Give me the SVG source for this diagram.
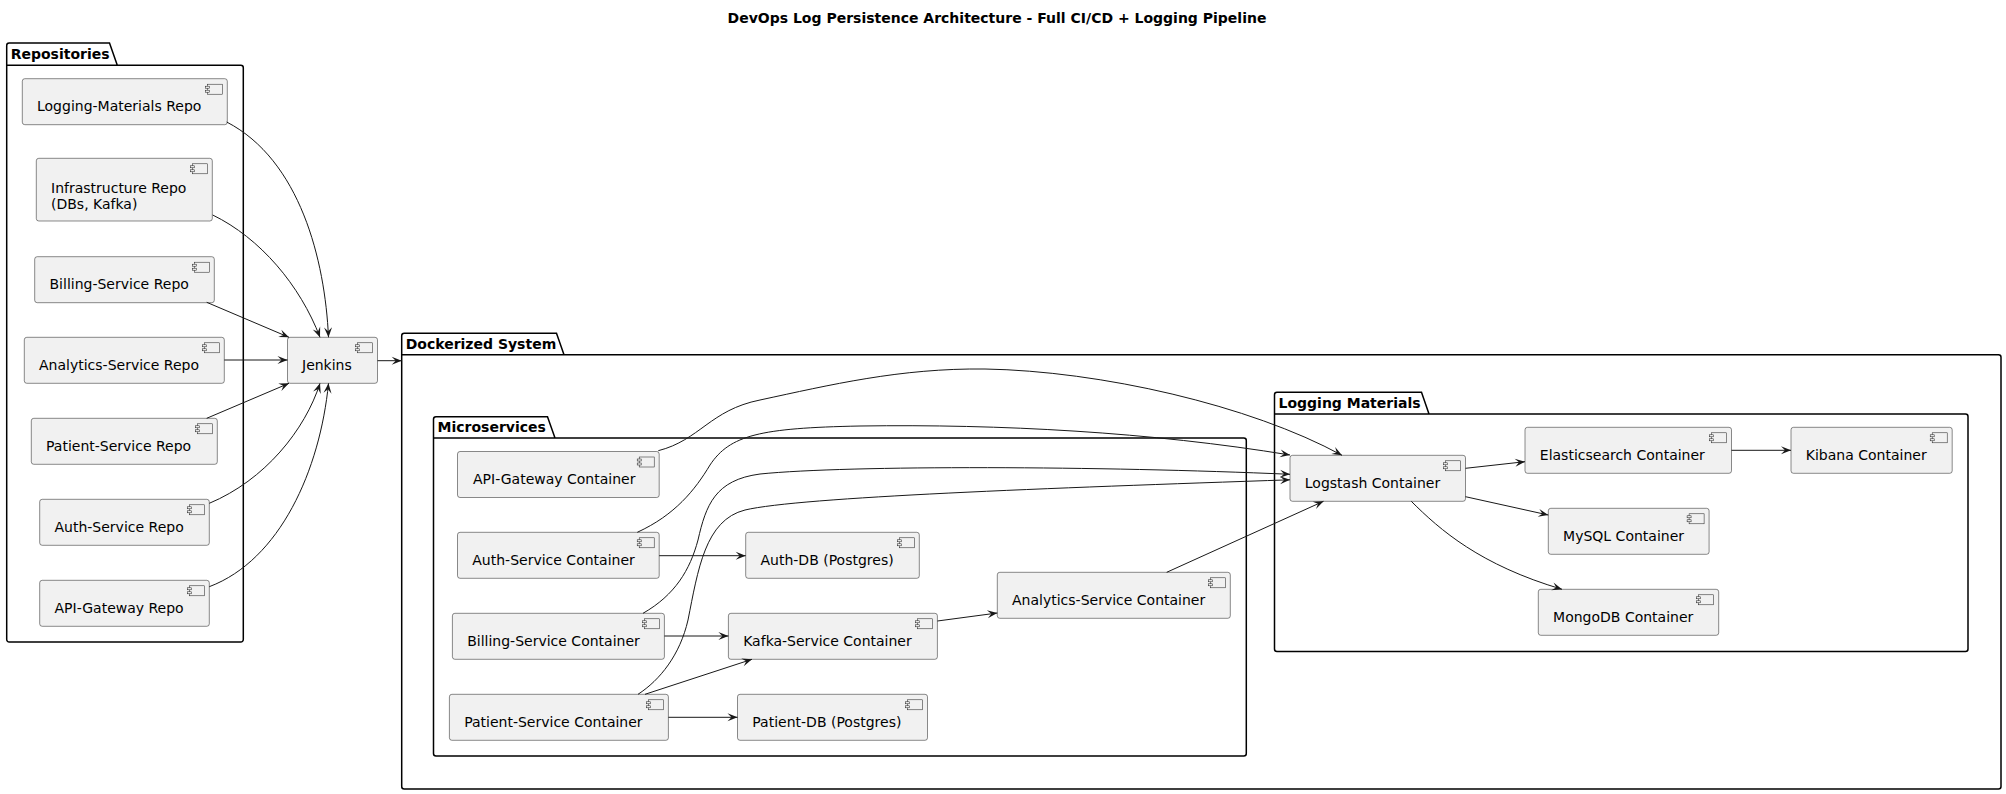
<svg xmlns="http://www.w3.org/2000/svg" width="2006" height="794" viewBox="0 0 2006 794">
<style>
.bg{fill:#FFFFFF}
.pkg{fill:none;stroke:#000000;stroke-width:1.5}
.box{fill:#F1F1F1;stroke:#181818;stroke-width:0.5}
.ico{fill:#F1F1F1;stroke:#181818;stroke-width:0.5}
.t{font-family:"DejaVu Sans","Liberation Sans",sans-serif;font-size:14px;fill:#000000}
.pt{font-family:"DejaVu Sans","Liberation Sans",sans-serif;font-size:14px;font-weight:bold;fill:#000000}
.ttl{font-family:"DejaVu Sans","Liberation Sans",sans-serif;font-size:14px;font-weight:bold;fill:#000000}
.e{fill:none;stroke:#181818;stroke-width:1;marker-end:url(#arr)}
</style>
<defs>
<marker id="arr" viewBox="-11 -5 12 10" refX="0" refY="0" markerWidth="12" markerHeight="10" orient="auto" markerUnits="userSpaceOnUse">
<path d="M0,0 L-10,-4 L-6,0 L-10,4 Z" fill="#181818"/>
</marker>
<g id="icon">
<rect class="ico" x="-20" y="5.5" width="15" height="10"/>
<rect class="ico" x="-22" y="7.5" width="4" height="2"/>
<rect class="ico" x="-22" y="11.5" width="4" height="2"/>
</g>
</defs>
<rect class="bg" x="0" y="0" width="2006" height="794"/>
<text class="ttl" x="997" y="23" text-anchor="middle">DevOps Log Persistence Architecture - Full CI/CD + Logging Pipeline</text>

<g id="pkg-repositories">
<path class="pkg" d="M9.2,43 L109.5,43 L117.3,65.3 L240.8,65.3 A2.5,2.5 0 0 1 243.3,67.8 L243.3,639.5 A2.5,2.5 0 0 1 240.8,642 L9.2,642 A2.5,2.5 0 0 1 6.7,639.5 L6.7,45.5 A2.5,2.5 0 0 1 9.2,43 Z M6.7,65.3 L117.3,65.3"/>
<text class="pt" x="10.7" y="58.5">Repositories</text>
</g>
<g id="pkg-dockerized">
<path class="pkg" d="M404.2,333.3 L556.5,333.3 L564,354.7 L1998.5,354.7 A2.5,2.5 0 0 1 2001,357.2 L2001,786.5 A2.5,2.5 0 0 1 1998.5,789 L404.2,789 A2.5,2.5 0 0 1 401.7,786.5 L401.7,335.8 A2.5,2.5 0 0 1 404.2,333.3 Z M401.7,354.7 L564,354.7"/>
<text class="pt" x="405.7" y="348.8">Dockerized System</text>
</g>
<g id="pkg-microservices">
<path class="pkg" d="M436,416.7 L547.5,416.7 L555,438 L1243.8,438 A2.5,2.5 0 0 1 1246.3,440.5 L1246.3,753.5 A2.5,2.5 0 0 1 1243.8,756 L436,756 A2.5,2.5 0 0 1 433.5,753.5 L433.5,419.2 A2.5,2.5 0 0 1 436,416.7 Z M433.5,438 L555,438"/>
<text class="pt" x="437.5" y="432.2">Microservices</text>
</g>
<g id="pkg-logging">
<path class="pkg" d="M1277,392.3 L1421.5,392.3 L1429,414 L1965.5,414 A2.5,2.5 0 0 1 1968,416.5 L1968,649 A2.5,2.5 0 0 1 1965.5,651.5 L1277,651.5 A2.5,2.5 0 0 1 1274.5,649 L1274.5,394.8 A2.5,2.5 0 0 1 1277,392.3 Z M1274.5,414 L1429,414"/>
<text class="pt" x="1278.5" y="407.8">Logging Materials</text>
</g>

<g id="logging-materials-repo">
<rect class="box" x="22.3" y="78.7" width="205" height="46" rx="2.5"/>
<use href="#icon" x="227.3" y="78.7"/>
<text class="t" x="37" y="111">Logging-Materials Repo</text>
</g>
<g id="infrastructure-repo">
<rect class="box" x="36.3" y="158.3" width="176" height="62.7" rx="2.5"/>
<use href="#icon" x="212.3" y="158.3"/>
<text class="t" x="51" y="192.5">Infrastructure Repo</text>
<text class="t" x="51" y="208.8">(DBs, Kafka)</text>
</g>
<g id="billing-service-repo">
<rect class="box" x="34.7" y="256.7" width="179.6" height="46" rx="2.5"/>
<use href="#icon" x="214.3" y="256.7"/>
<text class="t" x="49.5" y="289">Billing-Service Repo</text>
</g>
<g id="analytics-service-repo">
<rect class="box" x="24.3" y="337.3" width="200" height="46" rx="2.5"/>
<use href="#icon" x="224.3" y="337.3"/>
<text class="t" x="39" y="369.6">Analytics-Service Repo</text>
</g>
<g id="patient-service-repo">
<rect class="box" x="31.3" y="418.3" width="186" height="46" rx="2.5"/>
<use href="#icon" x="217.3" y="418.3"/>
<text class="t" x="46" y="450.6">Patient-Service Repo</text>
</g>
<g id="auth-service-repo">
<rect class="box" x="39.7" y="499.3" width="169.6" height="46" rx="2.5"/>
<use href="#icon" x="209.3" y="499.3"/>
<text class="t" x="54.5" y="531.6">Auth-Service Repo</text>
</g>
<g id="api-gateway-repo">
<rect class="box" x="39.7" y="580.3" width="169.6" height="46" rx="2.5"/>
<use href="#icon" x="209.3" y="580.3"/>
<text class="t" x="54.5" y="612.6">API-Gateway Repo</text>
</g>
<g id="jenkins">
<rect class="box" x="287.5" y="337.3" width="90" height="46" rx="2.5"/>
<use href="#icon" x="377.5" y="337.3"/>
<text class="t" x="302" y="369.6">Jenkins</text>
</g>

<g id="api-gateway-container">
<rect class="box" x="457.5" y="451.5" width="201.7" height="46" rx="2.5"/>
<use href="#icon" x="659.2" y="451.5"/>
<text class="t" x="473" y="483.8">API-Gateway Container</text>
</g>
<g id="auth-service-container">
<rect class="box" x="457.5" y="532.3" width="201.7" height="46" rx="2.5"/>
<use href="#icon" x="659.2" y="532.3"/>
<text class="t" x="472.3" y="564.6">Auth-Service Container</text>
</g>
<g id="billing-service-container">
<rect class="box" x="452.4" y="613.3" width="212" height="46" rx="2.5"/>
<use href="#icon" x="664.4" y="613.3"/>
<text class="t" x="467.2" y="645.6">Billing-Service Container</text>
</g>
<g id="patient-service-container">
<rect class="box" x="449.4" y="694.3" width="219" height="46" rx="2.5"/>
<use href="#icon" x="668.4" y="694.3"/>
<text class="t" x="464.2" y="726.6">Patient-Service Container</text>
</g>
<g id="auth-db">
<rect class="box" x="745.7" y="532.3" width="173.6" height="46" rx="2.5"/>
<use href="#icon" x="919.3" y="532.3"/>
<text class="t" x="760.5" y="564.6">Auth-DB (Postgres)</text>
</g>
<g id="kafka-service-container">
<rect class="box" x="728.4" y="613.3" width="209" height="46" rx="2.5"/>
<use href="#icon" x="937.4" y="613.3"/>
<text class="t" x="743.2" y="645.6">Kafka-Service Container</text>
</g>
<g id="patient-db">
<rect class="box" x="737.5" y="694.3" width="190" height="46" rx="2.5"/>
<use href="#icon" x="927.5" y="694.3"/>
<text class="t" x="752.3" y="726.6">Patient-DB (Postgres)</text>
</g>
<g id="analytics-service-container">
<rect class="box" x="997.3" y="572.3" width="233" height="46" rx="2.5"/>
<use href="#icon" x="1230.3" y="572.3"/>
<text class="t" x="1012" y="604.6">Analytics-Service Container</text>
</g>

<g id="logstash-container">
<rect class="box" x="1290" y="455.3" width="175.5" height="46" rx="2.5"/>
<use href="#icon" x="1465.5" y="455.3"/>
<text class="t" x="1304.8" y="487.6">Logstash Container</text>
</g>
<g id="elasticsearch-container">
<rect class="box" x="1525" y="427.3" width="206.5" height="46" rx="2.5"/>
<use href="#icon" x="1731.5" y="427.3"/>
<text class="t" x="1539.8" y="459.6">Elasticsearch Container</text>
</g>
<g id="kibana-container">
<rect class="box" x="1791" y="427.3" width="161.2" height="46" rx="2.5"/>
<use href="#icon" x="1952.2" y="427.3"/>
<text class="t" x="1805.8" y="459.6">Kibana Container</text>
</g>
<g id="mysql-container">
<rect class="box" x="1548.3" y="508.3" width="160.8" height="46" rx="2.5"/>
<use href="#icon" x="1709.1" y="508.3"/>
<text class="t" x="1563.1" y="540.6">MySQL Container</text>
</g>
<g id="mongodb-container">
<rect class="box" x="1538.3" y="589.3" width="180.4" height="46" rx="2.5"/>
<use href="#icon" x="1718.7" y="589.3"/>
<text class="t" x="1553.1" y="621.6">MongoDB Container</text>
</g>

<g id="connectors">
<path class="e" d="M226.7,122 C300,160 325,260 328.5,337.3"/>
<path class="e" d="M212.7,215 C260,238 300,285 320,337.3"/>
<path class="e" d="M206.7,302.3 L289,337.3"/>
<path class="e" d="M224.3,360 L287.5,360"/>
<path class="e" d="M206.7,418.3 L289,383.3"/>
<path class="e" d="M209.3,503.3 C265,480 305,430 320,383.3"/>
<path class="e" d="M209.3,586.7 C280,560 320,470 328.5,383.3"/>
<path class="e" d="M377.5,360.7 L401.7,360.7"/>
<path class="e" d="M658.3,450.7 C700,440 710,410 760,400 C830,385 900,368 985,369 C1100,371 1250,405 1342,455.3"/>
<path class="e" d="M637.3,532.3 C675,515 695,490 710,465 C730,435 760,428 860,426 C1000,424 1150,432 1290,455"/>
<path class="e" d="M643,613.3 C675,595 690,570 698,540 C706,505 715,480 760,474 C850,465 1100,466 1290,474.3"/>
<path class="e" d="M638,694.3 C660,680 680,655 688,620 C698,570 705,520 745,510 C800,497 1050,488 1290,479.8"/>
<path class="e" d="M1166.7,572.3 L1323.5,501.3"/>
<path class="e" d="M659.2,555.7 L745.7,555.7"/>
<path class="e" d="M664.4,636 L728.4,636"/>
<path class="e" d="M645,694.3 L752,659.3"/>
<path class="e" d="M668.4,717.3 L737.5,717.3"/>
<path class="e" d="M937.4,621 L997.3,613"/>
<path class="e" d="M1465.5,468.3 L1525,461.7"/>
<path class="e" d="M1731.5,450.3 L1791,450.3"/>
<path class="e" d="M1465.5,496.7 L1548.3,515"/>
<path class="e" d="M1411.3,501.3 C1440,530 1480,565 1562,589.3"/>
</g>
</svg>
